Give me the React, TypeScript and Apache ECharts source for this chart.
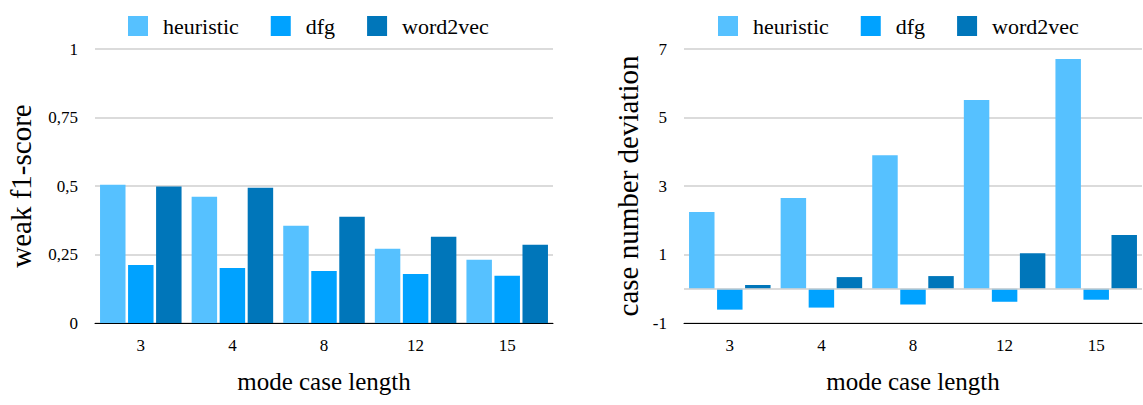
import React, { useEffect, useRef } from "react";
import * as echarts from "echarts";

const categories = ["3", "4", "8", "12", "15"];
const seriesNames = ["heuristic", "dfg", "word2vec"];
const colors = ["#56C1FF", "#00A2FF", "#0076BA"];

const f1Heuristic = [0.505, 0.461, 0.355, 0.271, 0.231];
const f1Dfg = [0.212, 0.201, 0.19, 0.179, 0.172];
const f1Word2vec = [0.498, 0.494, 0.388, 0.315, 0.286];

const devHeuristic = [2.24, 2.65, 3.9, 5.51, 6.71];
const devDfg = [-0.61, -0.55, -0.46, -0.38, -0.32];
const devWord2vec = [0.11, 0.34, 0.37, 1.04, 1.57];

const FONT = "'Liberation Serif', 'Times New Roman', serif";

export default function App() {
  const ref = useRef<HTMLDivElement>(null);
  useEffect(() => {
    if (!ref.current) return;
    const chart = echarts.init(ref.current, null, { renderer: "svg" });
    const grids = [
      { left: 95, right: 590, top: 49, bottom: 82 },
      { left: 684, right: 1, top: 49, bottom: 82 },
    ];
    const xAxis = grids.map((_, i) => ({
      type: "category",
      gridIndex: i,
      data: categories,
      axisLine: { show: true, onZero: false, lineStyle: { color: "#000", width: 1 } },
      axisTick: { show: false },
      axisLabel: { fontFamily: FONT, fontSize: 17, color: "#000", margin: 14 },
      name: "mode case length",
      nameLocation: "middle",
      nameGap: 46,
      nameTextStyle: { fontFamily: FONT, fontSize: 25, color: "#000" },
    }));
    const yAxis = [
      {
        type: "value",
        gridIndex: 0,
        min: 0,
        max: 1,
        interval: 0.25,
        axisLine: { show: false },
        axisTick: { show: false },
        splitLine: { lineStyle: { color: "#cfcfcf", width: 1.5 } },
        axisLabel: {
          fontFamily: FONT,
          fontSize: 17,
          color: "#000",
          margin: 17,
          formatter: (v: number) => String(v).replace(".", ","),
        },
        name: "weak f1-score",
        nameLocation: "middle",
        nameGap: 60,
        nameTextStyle: { fontFamily: FONT, fontSize: 29, color: "#000" },
      },
      {
        type: "value",
        gridIndex: 1,
        min: -1,
        max: 7,
        interval: 2,
        axisLine: { show: false },
        axisTick: { show: false },
        splitLine: { lineStyle: { color: "#cfcfcf", width: 1.5 } },
        axisLabel: { fontFamily: FONT, fontSize: 17, color: "#000", margin: 17 },
        name: "case number deviation",
        nameLocation: "middle",
        nameGap: 42,
        nameTextStyle: { fontFamily: FONT, fontSize: 29, color: "#000" },
      },
    ];
    const mk = (name: string, data: number[], idx: number, color: string, extra: any = {}) => ({
      type: "bar",
      name,
      data,
      xAxisIndex: idx,
      yAxisIndex: idx,
      itemStyle: { color },
      barGap: "10%",
      barCategoryGap: "11%",
      ...extra,
    });
    const legendBase = {
      data: seriesNames,
      top: 10,
      itemWidth: 20,
      itemHeight: 20,
      itemGap: 32,
      icon: "rect",
      textStyle: { fontFamily: FONT, fontSize: 22, color: "#000", padding: [0, 0, 0, 10] },
    };
    chart.setOption({
      animation: false,
      backgroundColor: "#fff",
      textStyle: { fontFamily: FONT, color: "#000" },
      grid: grids,
      xAxis,
      yAxis,
      legend: [
        { ...legendBase, left: 123 },
        { ...legendBase, left: 713 },
      ],
      series: [
        mk(seriesNames[0], f1Heuristic, 0, colors[0]),
        mk(seriesNames[1], f1Dfg, 0, colors[1]),
        mk(seriesNames[2], f1Word2vec, 0, colors[2]),
        mk(seriesNames[0], devHeuristic, 1, colors[0], {
          markLine: {
            silent: true,
            symbol: "none",
            label: { show: false },
            lineStyle: { color: "#cfcfcf", width: 1.5, type: "solid" },
            data: [{ yAxis: 0 }],
          },
        }),
        mk(seriesNames[1], devDfg, 1, colors[1]),
        mk(seriesNames[2], devWord2vec, 1, colors[2]),
      ],
    });
    return () => chart.dispose();
  }, []);
  return (
    <div
      ref={ref}
      style={{ position: "fixed", left: 0, top: 0, width: 1143, height: 405, background: "#fff" }}
    />
  );
}
